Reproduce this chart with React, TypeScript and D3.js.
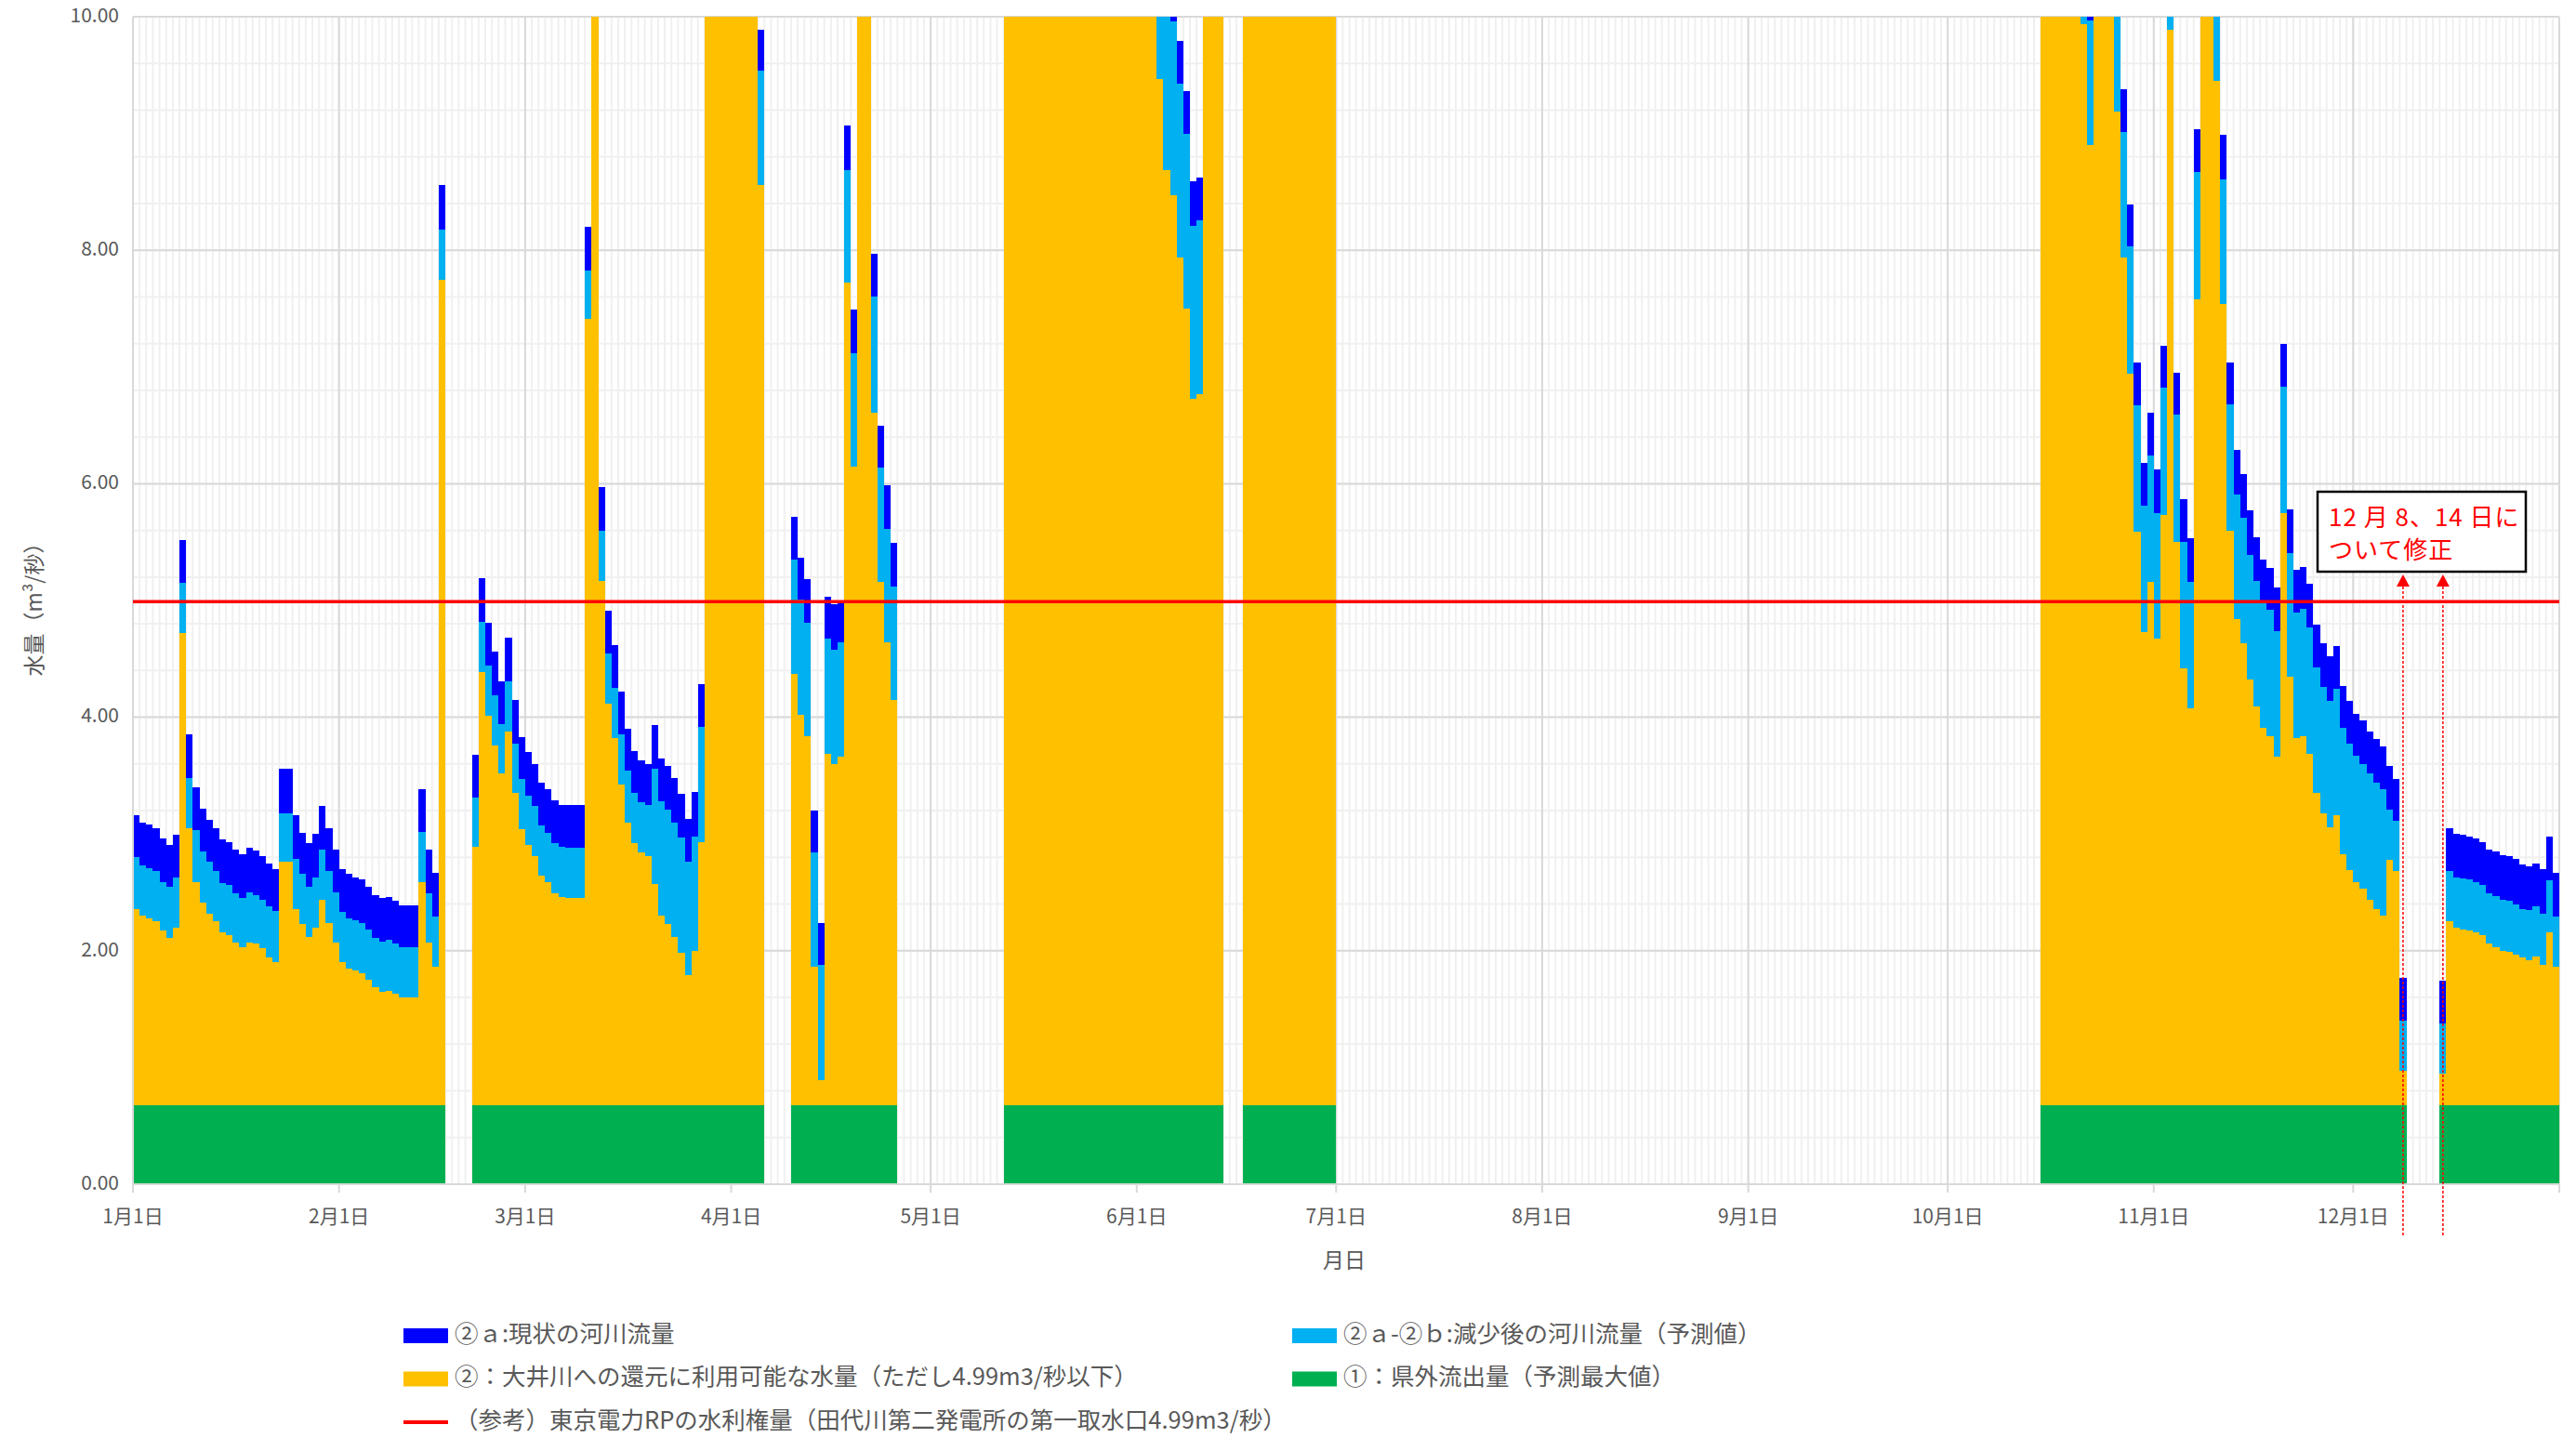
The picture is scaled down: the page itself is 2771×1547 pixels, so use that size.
import React from "react";
import * as d3 from "d3";

const _ = null;
const gap = (n: number) => Array(n).fill(null);

// ① 県外流出量（予測最大値） - same on every day that has data
const OUTFLOW = 0.68;
// 東京電力RPの水利権量
const WATER_RIGHT = 4.99;

const monthStarts = [0, 31, 59, 90, 120, 151, 181, 212, 243, 273, 304, 334];
const monthLabels = ["1月1日", "2月1日", "3月1日", "4月1日", "5月1日", "6月1日", "7月1日", "8月1日", "9月1日", "10月1日", "11月1日", "12月1日"];
const yTicks = [0, 2, 4, 6, 8, 10];

// ② top of the orange bar (11 = beyond the top of the axis)
const avail = [
  // Jan
  2.36, 2.30, 2.28, 2.25, 2.17, 2.11, 2.20, 4.72, 3.05, 2.59, 2.41, 2.32, 2.25, 2.16, 2.13, 2.07, 2.03, 2.07, 2.06, 2.02,
  1.94, 1.90, 2.76, 2.76, 2.36, 2.23, 2.12, 2.20, 2.44, 2.24, 2.07,
  // Feb
  1.90, 1.85, 1.83, 1.81, 1.75, 1.69, 1.65, 1.66, 1.63, 1.60, 1.60, 1.60, 2.59, 2.07, 1.86, 7.75, _, _, _, _,
  2.89, 4.39, 4.01, 3.76, 3.52, 3.88, 3.35, 3.04,
  // Mar
  2.91, 2.81, 2.64, 2.59, 2.49, 2.46, 2.45, 2.45, 2.45, 7.41, 11, 5.17, 4.12, 3.82, 3.42, 3.10, 2.92, 2.84, 2.81, 2.57,
  2.30, 2.23, 2.12, 1.98, 1.79, 2.00, 2.93, 11, 11, 11, 11,
  // Apr
  11, 11, 11, 11, 8.56, _, _, _, _, 4.37, 4.02, 3.84, 1.86, 0.89, 3.69, 3.60, 3.66, 7.72, 6.15, 11,
  11, 6.61, 5.16, 4.64, 4.15, _, _, _, _, _,
  // May
  _, _, _, _, _, _, _, _, _, _, _, 11, 11, 11, 11, 11, 11, 11, 11, 11,
  11, 11, 11, 11, 11, 11, 11, 11, 11, 11, 11,
  // Jun
  11, 11, 11, 9.47, 8.69, 8.47, 7.94, 7.50, 6.73, 6.77, 11, 11, 11, _, _, _, 11, 11, 11, 11,
  11, 11, 11, 11, 11, 11, 11, 11, 11, 11,
  // Jul - Sep
  ...gap(31), ...gap(31), ...gap(30),
  // Oct
  _, _, _, _, _, _, _, _, _, _, _, _, _, _, 11, 11, 11, 11, 11, 11,
  9.94, 8.90, 11, 11, 11, 9.19, 7.94, 6.94, 5.59, 4.73, 5.16,
  // Nov
  4.67, 5.73, 9.89, 5.50, 4.42, 4.08, 7.58, 11, 11, 9.45, 7.54, 5.60, 4.84, 4.63, 4.32, 4.09, 3.91, 3.84, 3.66, 5.75,
  4.35, 3.82, 3.84, 3.69, 3.35, 3.18, 3.06, 3.16, 2.83, 2.69,
  // Dec
  2.59, 2.53, 2.44, 2.36, 2.30, 2.78, 2.68, 0.97, _, _, _, _, _, 0.95, 2.25, 2.20, 2.18, 2.17, 2.16, 2.13,
  2.06, 2.03, 2.00, 1.99, 1.97, 1.94, 1.92, 1.95, 1.88, 2.16, 1.86,
];

// ②a-②b 減少後の河川流量 - top of the light blue bar
const reduced = [
  // Jan
  2.80, 2.73, 2.71, 2.68, 2.59, 2.55, 2.63, 5.15, 3.48, 3.03, 2.85, 2.76, 2.68, 2.58, 2.56, 2.49, 2.45, 2.50, 2.48, 2.44,
  2.38, 2.34, 3.18, 3.18, 2.79, 2.66, 2.55, 2.63, 2.87, 2.68, 2.50,
  // Feb
  2.33, 2.28, 2.26, 2.24, 2.18, 2.11, 2.08, 2.09, 2.06, 2.03, 2.03, 2.03, 3.02, 2.49, 2.29, 8.18, _, _, _, _,
  3.31, 4.82, 4.44, 4.19, 3.94, 4.31, 3.77, 3.47,
  // Mar
  3.33, 3.24, 3.07, 3.01, 2.92, 2.89, 2.88, 2.88, 2.88, 7.83, _, 5.60, 4.55, 4.25, 3.85, 3.54, 3.35, 3.27, 3.25, 3.56,
  3.28, 3.21, 3.10, 2.97, 2.76, 2.98, 3.92, _, _, _, _,
  // Apr
  _, _, _, _, 9.54, _, _, _, _, 5.35, 5.01, 4.81, 2.84, 1.88, 4.67, 4.58, 4.64, 8.69, 7.12, _,
  _, 7.60, 6.14, 5.61, 5.12, _, _, _, _, _,
  // May
  ...gap(31),
  // Jun
  _, _, _, 10.96, 10.18, 9.96, 9.43, 9.00, 8.21, 8.26, _, _, _, _, _, _, _, _, _, _,
  _, _, _, _, _, _, _, _, _, _,
  // Jul - Sep
  ...gap(31), ...gap(31), ...gap(30),
  // Oct
  _, _, _, _, _, _, _, _, _, _, _, _, _, _, _, _, _, _, _, _,
  11.02, 9.97, _, _, _, 10.27, 9.01, 8.03, 6.67, 5.81, 6.24,
  // Nov
  5.75, 6.82, 10.97, 6.59, 5.50, 5.16, 8.67, _, _, 10.53, 8.61, 6.68, 5.91, 5.71, 5.39, 5.17, 4.98, 4.92, 4.74, 6.83,
  5.41, 4.90, 4.93, 4.77, 4.43, 4.26, 4.14, 4.24, 3.91, 3.77,
  // Dec
  3.67, 3.60, 3.52, 3.44, 3.38, 3.21, 3.11, 1.40, _, _, _, _, _, 1.38, 2.68, 2.63, 2.62, 2.61, 2.59, 2.56,
  2.49, 2.47, 2.44, 2.43, 2.40, 2.36, 2.35, 2.38, 2.32, 2.60, 2.29,
];

// ②a 現状の河川流量 - top of the dark blue bar
const current = [
  // Jan
  3.16, 3.10, 3.08, 3.05, 2.96, 2.91, 2.99, 5.52, 3.85, 3.40, 3.22, 3.12, 3.05, 2.95, 2.93, 2.87, 2.83, 2.88, 2.86, 2.81,
  2.75, 2.70, 3.56, 3.56, 3.16, 3.01, 2.92, 3.00, 3.24, 3.05, 2.87,
  // Feb
  2.70, 2.66, 2.63, 2.61, 2.55, 2.48, 2.45, 2.46, 2.43, 2.39, 2.39, 2.39, 3.38, 2.87, 2.67, 8.56, _, _, _, _,
  3.68, 5.19, 4.81, 4.56, 4.31, 4.68, 4.15, 3.83,
  // Mar
  3.70, 3.60, 3.44, 3.38, 3.29, 3.25, 3.25, 3.25, 3.25, 8.20, _, 5.97, 4.91, 4.62, 4.22, 3.90, 3.71, 3.63, 3.60, 3.93,
  3.65, 3.58, 3.48, 3.34, 3.13, 3.36, 4.28, _, _, _, _,
  // Apr
  _, _, _, _, 9.89, _, _, _, _, 5.72, 5.37, 5.18, 3.20, 2.24, 5.03, 4.97, 5.00, 9.07, 7.49, _,
  _, 7.97, 6.50, 5.99, 5.49, _, _, _, _, _,
  // May
  ...gap(31),
  // Jun
  _, _, _, 11.32, 10.54, 10.32, 9.79, 9.36, 8.59, 8.62, _, _, _, _, _, _, _, _, _, _,
  _, _, _, _, _, _, _, _, _, _,
  // Jul - Sep
  ...gap(31), ...gap(31), ...gap(30),
  // Oct
  _, _, _, _, _, _, _, _, _, _, _, _, _, _, _, _, _, _, _, _,
  11.39, 10.34, _, _, _, 10.64, 9.38, 8.39, 7.04, 6.18, 6.61,
  // Nov
  6.12, 7.18, 11.34, 6.95, 5.87, 5.53, 9.04, _, _, 10.90, 8.99, 7.04, 6.29, 6.08, 5.77, 5.54, 5.35, 5.28, 5.11, 7.20,
  5.78, 5.26, 5.29, 5.14, 4.79, 4.63, 4.52, 4.61, 4.27, 4.14,
  // Dec
  4.03, 3.97, 3.88, 3.81, 3.75, 3.58, 3.47, 1.77, _, _, _, _, _, 1.74, 3.05, 3.00, 2.99, 2.98, 2.96, 2.93,
  2.87, 2.85, 2.82, 2.81, 2.79, 2.74, 2.72, 2.75, 2.70, 2.98, 2.67,
];

// days pointed at by the note (12月8日, 12月14日)
const correctedDays = [341, 347];
const noteLines = ["12 月 8、14 日に", "ついて修正"];

const keys = ["green", "orange", "light", "dark"];
const colors: Record<string, string> = {
  dark: "#0000FF",
  light: "#00B0F0",
  orange: "#FFC000",
  green: "#00B050",
};

const legendItems = [
  { key: "dark", label: "②ａ:現状の河川流量", col: 0, row: 0 },
  { key: "light", label: "②ａ-②ｂ:減少後の河川流量（予測値）", col: 1, row: 0 },
  { key: "orange", label: "②：大井川への還元に利用可能な水量（ただし4.99m3/秒以下）", col: 0, row: 1 },
  { key: "green", label: "①：県外流出量（予測最大値）", col: 1, row: 1 },
  { key: "red", label: "（参考）東京電力RPの水利権量（田代川第二発電所の第一取水口4.99m3/秒）", col: 0, row: 2 },
];

const W = 2771;
const H = 1547;
const left = 143, right = 2753, top = 18, bottom = 1274;
const FONT = "'Noto Sans CJK JP', 'Noto Sans', sans-serif";
const TEXT = "#595959";

export default function App() {
  const days = d3.range(avail.length);
  const x = d3.scaleBand<number>().domain(days).range([left, right]).padding(0);
  const y = d3.scaleLinear().domain([0, 10]).range([bottom, top]);
  const bw = x.bandwidth();

  const rows = days.map((i) => {
    const a = avail[i];
    if (a == null) return { green: 0, orange: 0, light: 0, dark: 0 };
    const r = reduced[i] ?? a;
    const c = current[i] ?? r;
    return { green: OUTFLOW, orange: a - OUTFLOW, light: r - a, dark: c - r };
  });
  const series = d3.stack<any>().keys(keys)(rows);

  const minorY = d3.range(0, 10.001, 0.4);
  const dayEdges = d3.range(avail.length + 1).map((i) => left + i * bw);

  return (
    <svg width={W} height={H} style={{ position: "absolute", left: 0, top: 0, background: "#fff" }} fontFamily={FONT}>
      <defs>
        <clipPath id="plot">
          <rect x={left} y={top} width={right - left} height={bottom - top} />
        </clipPath>
      </defs>
      <rect width={W} height={H} fill="#fff" />

      {/* minor gridlines */}
      <g stroke="#F0F0F0" strokeWidth={2}>
        {dayEdges.map((d, i) => (
          <line key={"vx" + i} x1={d} x2={d} y1={top} y2={bottom} />
        ))}
        {minorY.map((v, i) => (
          <line key={"hy" + i} x1={left} x2={right} y1={y(v)} y2={y(v)} />
        ))}
      </g>
      {/* major gridlines */}
      <g stroke="#D9D9D9" strokeWidth={2}>
        {monthStarts.map((m) => (
          <line key={"mx" + m} x1={x(m)} x2={x(m)} y1={top} y2={bottom} />
        ))}
        <line x1={right} x2={right} y1={top} y2={bottom} />
        {yTicks.map((v) => (
          <line key={"my" + v} x1={left} x2={right} y1={y(v)} y2={y(v)} />
        ))}
      </g>

      {/* stacked bars */}
      <g clipPath="url(#plot)" shapeRendering="crispEdges">
        {series.map((s) => (
          <g key={s.key} fill={colors[s.key]}>
            {s.map((d, i) =>
              d[1] - d[0] > 0 ? (
                <rect key={i} x={x(i)} width={bw} y={y(d[1])} height={y(d[0]) - y(d[1])} />
              ) : null
            )}
          </g>
        ))}
      </g>

      {/* axes */}
      <g stroke="#D9D9D9" strokeWidth={2}>
        <line x1={left} x2={left} y1={top} y2={bottom} />
        <line x1={left} x2={right} y1={bottom} y2={bottom} />
        {monthStarts.map((m) => (
          <line key={"t" + m} x1={x(m)} x2={x(m)} y1={bottom} y2={bottom + 9} />
        ))}
        <line x1={right} x2={right} y1={bottom} y2={bottom + 9} />
      </g>

      {/* water right line */}
      <line x1={left} x2={right} y1={y(WATER_RIGHT)} y2={y(WATER_RIGHT)} stroke="#FF0000" strokeWidth={3.5} />

      {/* correction arrows */}
      {correctedDays.map((d) => {
        const cx = (x(d) as number) + bw / 2;
        return (
          <g key={"arr" + d}>
            <line x1={cx} x2={cx} y1={631} y2={1329} stroke="#FF0000" strokeWidth={1.5} strokeDasharray="3,2" />
            <path d={`M${cx},618 L${cx - 7},631 L${cx + 7},631 Z`} fill="#FF0000" />
          </g>
        );
      })}
      <rect x={2493} y={529} width={224} height={86} fill="#fff" stroke="#000" strokeWidth={2.5} />
      {noteLines.map((t, i) => (
        <text key={t} x={2505} y={566 + i * 35} fontSize={26} fill="#FF0000" letterSpacing={1}>
          {t}
        </text>
      ))}

      {/* y tick labels */}
      {yTicks.map((v) => (
        <text key={"yl" + v} x={128} y={y(v)} fontSize={21} fill={TEXT} textAnchor="end" dominantBaseline="middle">
          {v.toFixed(2)}
        </text>
      ))}
      {/* x tick labels */}
      {monthStarts.map((m, i) => (
        <text key={"xl" + m} x={x(m)} y={1310} fontSize={21} fill={TEXT} textAnchor="middle" dominantBaseline="middle">
          {monthLabels[i]}
        </text>
      ))}
      <text x={1446} y={1358} fontSize={23} fill={TEXT} textAnchor="middle" dominantBaseline="middle">
        月日
      </text>
      <text
        transform={`translate(39,650) rotate(-90)`}
        fontSize={23}
        fill={TEXT}
        textAnchor="middle"
        dominantBaseline="middle"
      >
        水量（m³/秒）
      </text>

      {/* legend */}
      {legendItems.map((it) => {
        const lx = it.col === 0 ? 434 : 1390;
        const ly = 1437 + it.row * 46.5;
        return (
          <g key={it.key}>
            {it.key === "red" ? (
              <line x1={lx} x2={lx + 48} y1={ly} y2={ly} stroke="#FF0000" strokeWidth={4} />
            ) : (
              <rect x={lx} y={ly - 8} width={48} height={16} fill={colors[it.key]} />
            )}
            <text x={lx + 55} y={ly} fontSize={25.5} fill={TEXT} dominantBaseline="middle">
              {it.label}
            </text>
          </g>
        );
      })}
    </svg>
  );
}
